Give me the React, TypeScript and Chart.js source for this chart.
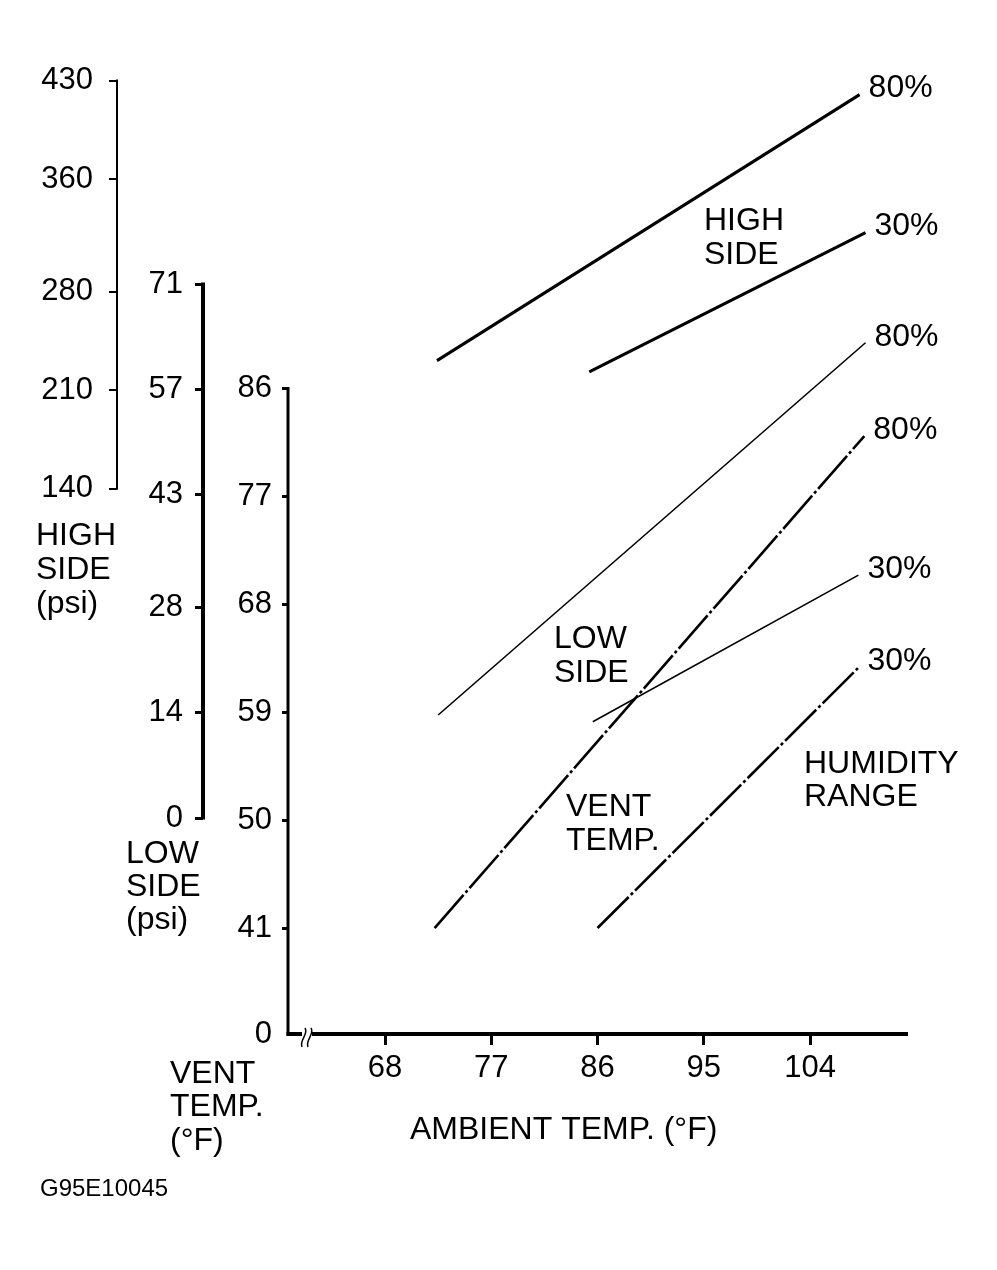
import { useEffect, useRef } from 'react';
import { Chart, registerables } from 'chart.js';

Chart.register(...registerables);

const FONT = "'Liberation Sans', Arial, Helvetica, sans-serif";

// axis ticks
const ambientTicks = [68, 77, 86, 95, 104];
const highSideTicks = [140, 210, 280, 360, 430];
const lowSideTicks = [0, 14, 28, 43, 57, 71];
const ventTicks = [41, 50, 59, 68, 77, 86];

// high side pressure (psi) vs ambient temp (F)
const highAmbient80 = [72.4, 108.2];
const highPsi80 = [231, 420];
const highAmbient30 = [85.3, 108.7];
const highPsi30 = [223, 322];

// low side pressure (psi)
const lowAmbient80 = [72.5, 108.7];
const lowPsi80 = [13.7, 63.2];
const lowAmbient30 = [85.6, 108.1];
const lowPsi30 = [12.8, 32.3];

// vent temp (F)
const ventAmbient80 = [72.2, 108.6];
const ventTemp80 = [41, 82];
const ventAmbient30 = [86, 108.1];
const ventTemp30 = [41, 62.7];

const humidityTags = ['80%', '30%', '80%', '30%', '80%', '30%'];

// vent axis is broken below 41, the bottom reads "0"
const VENT_BREAK = 32.17;

const toPoints = (xs: number[], ys: number[]) => xs.map((x, i) => ({ x, y: ys[i] }));

const setTicks = (values: number[]) => (scale: any) => {
  scale.ticks = values.map(value => ({ value }));
};

const decorPlugin = {
  id: 'decor',
  afterDraw(chart: any) {
    const { ctx, chartArea, scales } = chart;
    const { left, right, bottom } = chartArea;
    ctx.save();
    ctx.strokeStyle = '#000';
    ctx.fillStyle = '#000';
    ctx.lineCap = 'butt';

    const line = (x1: number, y1: number, x2: number, y2: number, w: number) => {
      ctx.lineWidth = w;
      ctx.beginPath();
      ctx.moveTo(x1, y1);
      ctx.lineTo(x2, y2);
      ctx.stroke();
    };

    // axis spines
    const hs = scales.yHigh;
    line(hs.right, hs.getPixelForValue(430) - 1, hs.right, hs.getPixelForValue(140) + 1, 2);
    const ls = scales.yLow;
    line(ls.right, ls.getPixelForValue(71) - 1.5, ls.right, ls.getPixelForValue(0) + 1.5, 4);
    const vs = scales.yVent;
    line(vs.right, vs.getPixelForValue(86) - 1, vs.right, bottom + 2, 3);

    // x axis with break
    line(left - 1.5, bottom, left + 14, bottom, 4);
    line(left + 24, bottom, right, bottom, 4);
    ctx.lineWidth = 1.5;
    [0, 6].forEach(o => {
      ctx.beginPath();
      ctx.moveTo(left + 17 + o, bottom - 6);
      ctx.bezierCurveTo(left + 21 + o, bottom, left + 11 + o, bottom + 6, left + 14 + o, bottom + 13);
      ctx.stroke();
    });

    // humidity tags at line ends
    ctx.font = `32px ${FONT}`;
    ctx.textBaseline = 'middle';
    ctx.textAlign = 'left';
    chart.data.datasets.forEach((_: any, i: number) => {
      const pts = chart.getDatasetMeta(i).data;
      const last = pts[pts.length - 1];
      ctx.fillText(humidityTags[i], last.x + 9, last.y - 6);
    });

    const notes: [string, number, number][] = [
      ['HIGH', 704, 221], ['SIDE', 704, 255],
      ['LOW', 554, 639], ['SIDE', 554, 673],
      ['VENT', 566, 807], ['TEMP.', 566, 841],
      ['HUMIDITY', 804, 764], ['RANGE', 804, 797],
      ['HIGH', 36, 536], ['SIDE', 36, 570], ['(psi)', 36, 604],
      ['LOW', 126, 854], ['SIDE', 126, 887], ['(psi)', 126, 920],
      ['VENT', 170, 1074], ['TEMP.', 170, 1107], ['(°F)', 170, 1141],
      ['AMBIENT TEMP. (°F)', 410, 1130],
    ];
    notes.forEach(([t, x, y]) => ctx.fillText(t, x, y));

    ctx.font = `24px ${FONT}`;
    ctx.fillText('G95E10045', 40, 1189);
    ctx.restore();
  },
};

const tickFont = { family: FONT, size: 31 };

export default function App() {
  const canvasRef = useRef<HTMLCanvasElement>(null);

  useEffect(() => {
    document.body.style.margin = '0';
    if (!canvasRef.current) return;

    const solid = { borderColor: '#000', pointRadius: 0, tension: 0, borderCapStyle: 'butt' as const };
    const dashDot = [44, 3, 3, 3];

    const chart = new Chart(canvasRef.current, {
      type: 'line',
      data: {
        datasets: [
          { ...solid, label: 'High side 80%', data: toPoints(highAmbient80, highPsi80), yAxisID: 'yHigh', borderWidth: 3 },
          { ...solid, label: 'High side 30%', data: toPoints(highAmbient30, highPsi30), yAxisID: 'yHigh', borderWidth: 3 },
          { ...solid, label: 'Low side 80%', data: toPoints(lowAmbient80, lowPsi80), yAxisID: 'yLow', borderWidth: 1.6 },
          { ...solid, label: 'Low side 30%', data: toPoints(lowAmbient30, lowPsi30), yAxisID: 'yLow', borderWidth: 1.6 },
          { ...solid, label: 'Vent temp 80%', data: toPoints(ventAmbient80, ventTemp80), yAxisID: 'yVent', borderWidth: 2.6, borderDash: dashDot },
          { ...solid, label: 'Vent temp 30%', data: toPoints(ventAmbient30, ventTemp30), yAxisID: 'yVent', borderWidth: 2.6, borderDash: dashDot },
        ],
      },
      options: {
        animation: false,
        responsive: false,
        events: [],
        layout: { padding: { top: 80, right: 89, bottom: 176, left: 0 } },
        plugins: {
          legend: { display: false },
          tooltip: { enabled: false },
        },
        scales: {
          x: {
            type: 'linear',
            position: 'bottom',
            min: 59.78,
            max: 112.3,
            bounds: 'data',
            afterBuildTicks: setTicks(ambientTicks),
            afterFit: (s: any) => { s.height = 60; },
            ticks: { font: tickFont, color: '#000', padding: 5, autoSkip: false, maxRotation: 0 },
            grid: { drawOnChartArea: false, tickLength: 11, color: '#000', lineWidth: 3 },
            border: { display: false },
          },
          yHigh: {
            type: 'linear',
            position: 'left',
            weight: 2,
            min: -247.5,
            max: 430.4,
            bounds: 'data',
            afterBuildTicks: setTicks(highSideTicks),
            afterFit: (s: any) => { s.width = 117; },
            ticks: { font: tickFont, color: '#000', padding: 16, autoSkip: false },
            grid: { drawOnChartArea: false, tickLength: 8, color: '#000', lineWidth: 2 },
            border: { display: false },
          },
          yLow: {
            type: 'linear',
            position: 'left',
            weight: 1,
            min: -28.72,
            max: 98.14,
            bounds: 'data',
            afterBuildTicks: setTicks(lowSideTicks),
            afterFit: (s: any) => { s.width = 86; },
            ticks: { font: tickFont, color: '#000', padding: 12, autoSkip: false },
            grid: { drawOnChartArea: false, tickLength: 8, color: '#000', lineWidth: 3 },
            border: { display: false },
          },
          yVent: {
            type: 'linear',
            position: 'left',
            weight: 0,
            min: VENT_BREAK,
            max: 111.67,
            bounds: 'data',
            afterBuildTicks: setTicks([VENT_BREAK, ...ventTicks]),
            afterFit: (s: any) => { s.width = 85; },
            ticks: {
              font: tickFont,
              color: '#000',
              padding: 10,
              autoSkip: false,
              callback: (v: any) => (v === VENT_BREAK ? '0' : String(v)),
            },
            grid: {
              drawOnChartArea: false,
              tickLength: 6,
              lineWidth: 3,
              color: (c: any) => (c.tick && c.tick.value === VENT_BREAK ? 'rgba(0,0,0,0)' : '#000'),
            },
            border: { display: false },
          },
        },
      },
      plugins: [decorPlugin],
    } as any);

    return () => chart.destroy();
  }, []);

  return (
    <div style={{ width: 997, height: 1270, background: '#fff' }}>
      <canvas ref={canvasRef} width={997} height={1270} style={{ display: 'block' }} />
    </div>
  );
}
